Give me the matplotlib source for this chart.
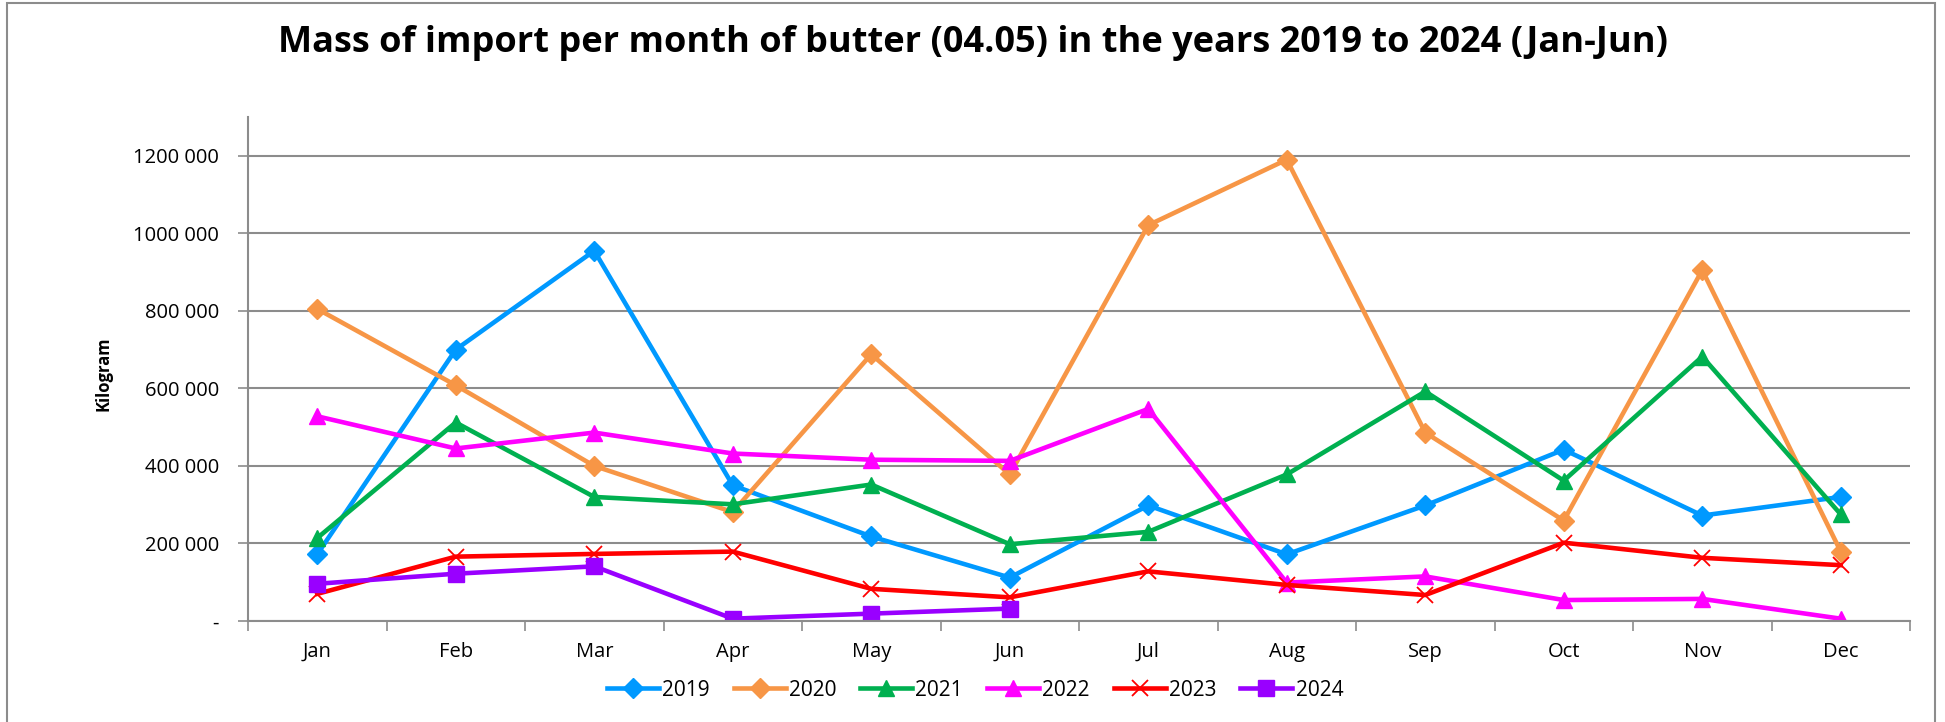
import matplotlib
matplotlib.use("Agg")
import matplotlib.pyplot as plt
from matplotlib.ticker import FuncFormatter, FixedLocator, MultipleLocator
from matplotlib.patches import Rectangle

plt.rcParams['font.family'] = ['Open Sans', 'DejaVu Sans']

# monthly import mass in kg
months = ["Jan", "Feb", "Mar", "Apr", "May", "Jun",
          "Jul", "Aug", "Sep", "Oct", "Nov", "Dec"]
y2019 = [172000, 700000, 955000, 350000, 218000, 112000,
         298000, 172000, 298000, 442000, 272000, 320000]
y2020 = [805000, 608000, 400000, 281000, 688000, 378000,
         1021000, 1190000, 486000, 259000, 905000, 179000]
y2021 = [214000, 512000, 320000, 301000, 352000, 198000,
         230000, 378000, 592000, 362000, 682000, 275000]
y2022 = [528000, 445000, 486000, 432000, 416000, 413000,
         547000, 99000, 115000, 54000, 57000, 6000]
y2023 = [70000, 166000, 173000, 179000, 83000, 61000,
         128000, 93000, 67000, 202000, 163000, 144000]
y2024 = [96000, 122000, 141000, 6000, 19000, 32000]

series = [
    ("2019", y2019, "#0099FF", "D", 10),
    ("2020", y2020, "#F79646", "D", 10),
    ("2021", y2021, "#00B050", "^", 12),
    ("2022", y2022, "#FF00FF", "^", 12),
    ("2023", y2023, "#FF0000", "x", 12),
    ("2024", y2024, "#9900FF", "s", 11),
]


def fmt_kg(v, pos):
    if v == 0:
        return "-"
    return f"{v // 1000:.0f} {v % 1000:03.0f}"


def make_plot():
    fig = plt.figure(figsize=(19.45, 7.22), dpi=100)
    ax = fig.add_axes([248 / 1945, 1 - 621 / 722, (1910 - 248) / 1945, (621 - 117) / 722])

    # outer chart border
    fig.patches.append(Rectangle((7 / 1945, -0.05), (1935 - 7) / 1945, 1.05 - 3 / 722,
                                 transform=fig.transFigure, fill=False,
                                 edgecolor="#8c8c8c", linewidth=1.5))

    for label, vals, color, marker, ms in series:
        xs = list(range(len(vals)))
        if marker == "x":
            ax.plot(xs, vals, color=color, linewidth=3.3, marker=marker,
                    markersize=ms, markeredgewidth=1.3, label=label)
        else:
            ax.plot(xs, vals, color=color, linewidth=3.3, marker=marker,
                    markersize=ms, label=label)

    ax.set_xlim(-0.5, 11.5)
    ax.set_ylim(0, 1300000)
    ax.yaxis.set_major_locator(MultipleLocator(200000))
    ax.yaxis.set_major_formatter(FuncFormatter(fmt_kg))
    ax.set_xticks(range(12))
    ax.set_xticklabels(months)
    ax.xaxis.set_minor_locator(FixedLocator([i - 0.5 for i in range(13)]))
    ax.tick_params(axis="x", which="major", length=0, pad=15, labelsize=14.5)
    ax.tick_params(axis="x", which="minor", length=7, color="#8c8c8c", width=1.2)
    ax.tick_params(axis="y", length=7, color="#8c8c8c", width=1.2, pad=14, labelsize=14.5)

    ax.grid(axis="y", color="#8c8c8c", linewidth=1.5)
    ax.set_axisbelow(True)
    for s in ["top", "right"]:
        ax.spines[s].set_visible(False)
    for s in ["left", "bottom"]:
        ax.spines[s].set_color("#8c8c8c")
        ax.spines[s].set_linewidth(1.5)

    fig.text(0.5, 1 - 52 / 722, "Mass of import per month of butter (04.05) in the years 2019 to 2024 (Jan-Jun)",
             ha="center", va="baseline", fontsize=26, fontweight="bold")
    fig.text(103 / 1945, 1 - 374 / 722, "Kilogram", rotation=90, ha="center", va="center",
             fontsize=12, fontweight="bold")

    fig.legend(loc="center", bbox_to_anchor=(975 / 1945, 1 - 690 / 722), ncol=6,
               frameon=False, fontsize=15, handlelength=2.5, handletextpad=0.15,
               columnspacing=1.15)

    fig.savefig("out.png", dpi=100)


if __name__ == '__main__':
    make_plot()
